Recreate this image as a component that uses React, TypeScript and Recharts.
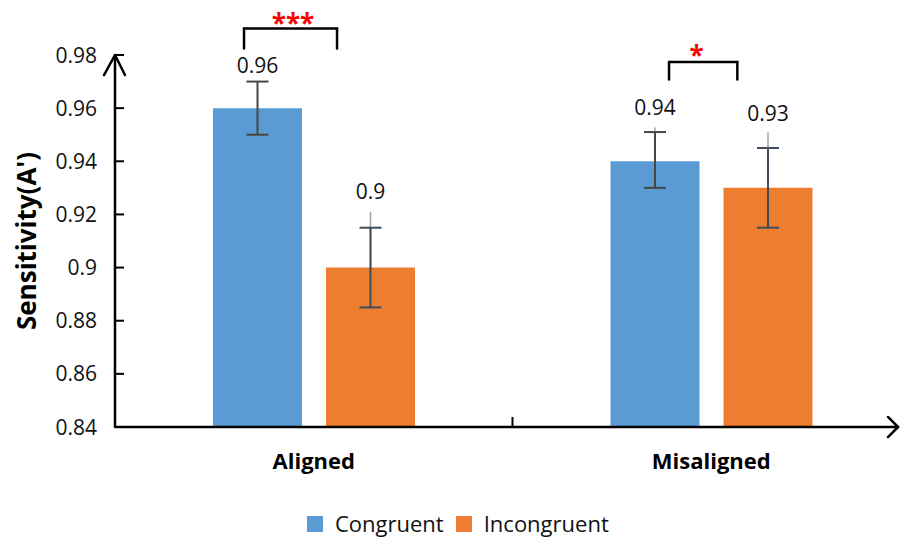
import React from "react";
import {
  BarChart, Bar, XAxis, YAxis, ErrorBar, LabelList, ReferenceLine, ReferenceDot,
} from "recharts";

// ---- data ----
const CATEGORIES = ["Aligned", "Misaligned"];
const CONGRUENT = [0.96, 0.94];
const INCONGRUENT = [0.9, 0.93];
// error bars as [minus, plus]
const CONG_ERR = [[0.01, 0.01], [0.01, 0.011]];
const INCONG_ERR = [[0.015, 0.015], [0.015, 0.015]];
// faint leader lines from the data labels down to the bars
const CONG_LEADER = [[0, 0], [0, 0.0127]];
const INCONG_LEADER = [[0, 0.021], [0, 0.0208]];
const Y_TICKS = [0.84, 0.86, 0.88, 0.9, 0.92, 0.94, 0.96, 0.98];

// significance brackets: x as fraction of the plot width, y in value units
const SIG_X1 = [0.1623, 0.6969];
const SIG_X2 = [0.2793, 0.7828];
const SIG_LOW = [0.9824, 0.9708];
const SIG_HIGH = [0.99, 0.9774];
const SIG_STARS = ["***", "*"];
const SIG_STAR_X = [0.2239, 0.7316];
const SIG_STAR_Y = [0.9938, 0.9817];

const data = CATEGORIES.map((name, i) => ({
  name,
  congruent: CONGRUENT[i],
  incongruent: INCONGRUENT[i],
  congErr: CONG_ERR[i],
  incongErr: INCONG_ERR[i],
  congLeader: CONG_LEADER[i],
  incongLeader: INCONG_LEADER[i],
}));

// ---- styling ----
const BLUE = "#5B9BD5";
const ORANGE = "#ED7D31";
const FONT = "'Open Sans', 'Liberation Sans', sans-serif";
const CONG_LABEL_LIFT = [43, 54];
const INCONG_LABEL_LIFT = [76, 74];

// pixel -> data unit helpers for the axis arrows
const PX_X = 1 / 795;
const PX_Y = 0.14 / 371;

const fmt = (v: number) => String(+v.toFixed(2));

function YTick({ x, y, payload }: any) {
  return (
    <g>
      <line x1={x + 18} x2={x + 27} y1={y} y2={y} stroke="#000" strokeWidth={2} />
      <text x={x} y={y} dy="0.36em" textAnchor="end" fontSize={21} fill="#111" fontFamily={FONT}>
        {fmt(payload.value)}
      </text>
    </g>
  );
}

function XTick({ x, y, payload }: any) {
  return (
    <text x={x} y={y} dy={42} textAnchor="middle" fontSize={22} fontWeight="bold" fill="#000" fontFamily={FONT}>
      {payload.value}
    </text>
  );
}

function YTitle({ viewBox }: any) {
  const cy = viewBox.y + viewBox.height / 2;
  return (
    <text
      x={26} y={cy} transform={`rotate(-90 26 ${cy})`}
      textAnchor="middle" dominantBaseline="central"
      fontSize={26} fontWeight="bold" fill="#000" fontFamily={FONT}
    >
      Sensitivity(A')
    </text>
  );
}

function makeValueLabel(lift: number[]) {
  return (props: any) => {
    const vb = props.viewBox ?? props;
    const x = vb.x ?? props.x;
    const y = vb.y ?? props.y;
    const w = vb.width ?? props.width;
    const i = props.index ?? 0;
    return (
      <text x={x + w / 2} y={y - lift[i]} dy="0.36em" textAnchor="middle" fontSize={21} fill="#111" fontFamily={FONT}>
        {fmt(Number(props.value))}
      </text>
    );
  };
}

const line = { stroke: "#000", strokeWidth: 2.5, strokeLinecap: "round" as const };

export default function App() {
  return (
    <div style={{ position: "absolute", left: 0, top: 0, width: 900, height: 539, overflow: "hidden", background: "#fff" }}>
      <BarChart
        width={910}
        height={539}
        data={data}
        margin={{ top: 55, right: 0, left: 0, bottom: 52 }}
        barCategoryGap={98}
        barGap={24}
      >
        <XAxis dataKey="name" axisLine={false} tickLine={false} tickSize={0} tickMargin={0} height={60} tick={<XTick />} />
        <XAxis xAxisId="n" type="number" domain={[0, 1]} hide allowDataOverflow />
        <YAxis
          type="number"
          domain={[0.84, 0.98]}
          ticks={Y_TICKS}
          allowDataOverflow
          width={115}
          axisLine={{ stroke: "#000", strokeWidth: 2.5 }}
          tickLine={false}
          tickSize={0}
          tickMargin={18}
          tick={<YTick />}
          label={{ content: <YTitle /> } as any}
        />

        <Bar dataKey="congruent" fill={BLUE} isAnimationActive={false}>
          <ErrorBar dataKey="congLeader" width={0} stroke="#a3a3a3" strokeWidth={1.5} isAnimationActive={false} />
          <ErrorBar dataKey="congErr" width={11} stroke="#4a4540" strokeWidth={2} isAnimationActive={false} />
          <LabelList dataKey="congruent" content={makeValueLabel(CONG_LABEL_LIFT)} />
        </Bar>
        <Bar dataKey="incongruent" fill={ORANGE} isAnimationActive={false}>
          <ErrorBar dataKey="incongLeader" width={0} stroke="#a3a3a3" strokeWidth={1.5} isAnimationActive={false} />
          <ErrorBar dataKey="incongErr" width={11} stroke="#3f4c5a" strokeWidth={2} isAnimationActive={false} />
          <LabelList dataKey="incongruent" content={makeValueLabel(INCONG_LABEL_LIFT)} />
        </Bar>

        {/* x axis line with arrow */}
        <ReferenceLine xAxisId="n" ifOverflow="visible" segment={[{ x: 0, y: 0.84 }, { x: 783 * PX_X, y: 0.84 }]} {...line} />
        <ReferenceLine xAxisId="n" ifOverflow="visible" segment={[{ x: 773 * PX_X, y: 0.84 + 10 * PX_Y }, { x: 783 * PX_X, y: 0.84 }]} {...line} />
        <ReferenceLine xAxisId="n" ifOverflow="visible" segment={[{ x: 773 * PX_X, y: 0.84 - 10 * PX_Y }, { x: 783 * PX_X, y: 0.84 }]} {...line} />
        {/* category divider tick */}
        <ReferenceLine xAxisId="n" ifOverflow="visible" segment={[{ x: 0.5, y: 0.84 }, { x: 0.5, y: 0.84 + 10 * PX_Y }]} stroke="#000" strokeWidth={2} />
        {/* y axis arrow head */}
        <ReferenceLine xAxisId="n" ifOverflow="visible" segment={[{ x: -11 * PX_X, y: 0.98 - 20 * PX_Y }, { x: 0, y: 0.98 }]} {...line} />
        <ReferenceLine xAxisId="n" ifOverflow="visible" segment={[{ x: 10 * PX_X, y: 0.98 - 20 * PX_Y }, { x: 0, y: 0.98 }]} {...line} />

        {/* significance brackets */}
        {SIG_X1.map((x1, i) => (
          <ReferenceLine key={`l${i}`} xAxisId="n" ifOverflow="visible" segment={[{ x: x1, y: SIG_LOW[i] }, { x: x1, y: SIG_HIGH[i] }]} {...line} />
        ))}
        {SIG_X1.map((x1, i) => (
          <ReferenceLine key={`t${i}`} xAxisId="n" ifOverflow="visible" segment={[{ x: x1, y: SIG_HIGH[i] }, { x: SIG_X2[i], y: SIG_HIGH[i] }]} {...line} />
        ))}
        {SIG_X2.map((x2, i) => (
          <ReferenceLine key={`r${i}`} xAxisId="n" ifOverflow="visible" segment={[{ x: x2, y: SIG_LOW[i] }, { x: x2, y: SIG_HIGH[i] }]} {...line} />
        ))}
        {SIG_STARS.map((s, i) => (
          <ReferenceDot
            key={`s${i}`}
            xAxisId="n"
            x={SIG_STAR_X[i]}
            y={SIG_STAR_Y[i]}
            r={0}
            ifOverflow="visible"
            shape={(p: any) => (
              <text x={p.cx} y={p.cy} dy="0.56em" textAnchor="middle" fontSize={26} fontWeight="bold" fill="#ff0000" fontFamily={FONT}>
                {s}
              </text>
            )}
          />
        ))}
      </BarChart>

      {/* legend */}
      <div
        style={{
          position: "absolute", left: 307, top: 511, display: "flex", alignItems: "center",
          fontFamily: FONT, fontSize: 22, lineHeight: "25px", color: "#111", whiteSpace: "nowrap",
        }}
      >
        <span style={{ width: 16, height: 16, background: BLUE, display: "inline-block", marginRight: 12 }} />
        <span style={{ marginRight: 12 }}>Congruent</span>
        <span style={{ width: 16, height: 16, background: ORANGE, display: "inline-block", marginRight: 12 }} />
        <span>Incongruent</span>
      </div>
    </div>
  );
}
